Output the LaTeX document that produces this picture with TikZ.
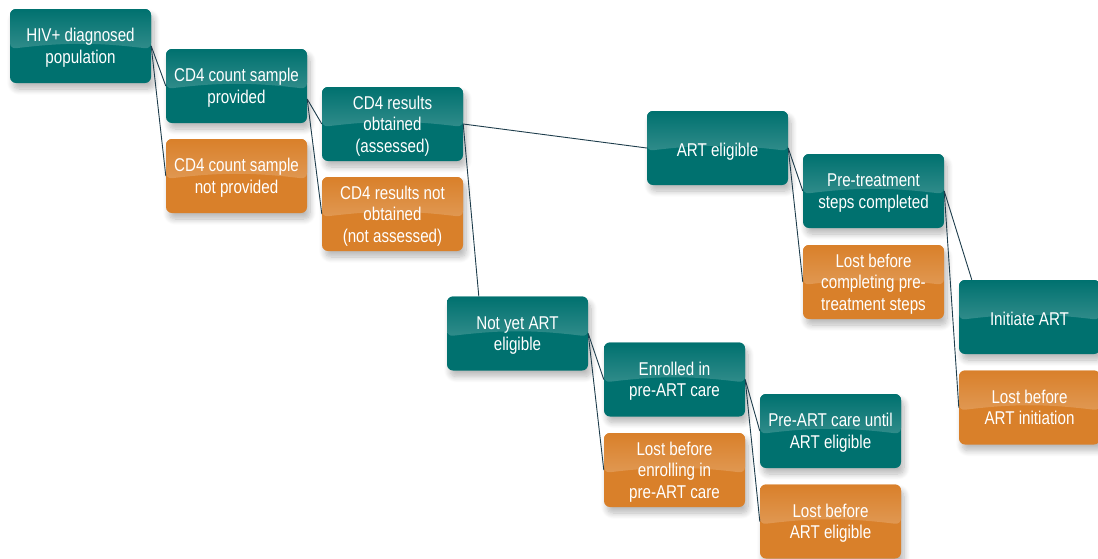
\documentclass[tikz,border=0pt]{standalone}
\usepackage{fontspec}
\setmainfont{Liberation Sans}[FakeStretch=0.82]
\usetikzlibrary{calc,shadows.blur}
\definecolor{ct}{HTML}{00716F}
\definecolor{co}{HTML}{D9802A}
\definecolor{cl}{HTML}{1E3D4C}

\begin{document}
\begin{tikzpicture}[x=1pt,y=-1pt,
  stage/.style={rounded corners=6pt, minimum width=141pt, minimum height=74pt, inner sep=0pt,
    align=center, text=white, font=\fontsize{18.5}{21.5}\selectfont, text depth=0pt,
    execute at begin node={\rule{0pt}{16pt}},
    blur shadow={shadow xshift=3pt, shadow yshift=-6pt, shadow opacity=28,
      shadow blur radius=6pt, shadow blur steps=10}},
  sheen/.style={fill=#1, path picture={
    \shade[top color=#1, bottom color=#1!65!white]
      (path picture bounding box.north west) -- (path picture bounding box.north east)
      -- ($(path picture bounding box.north east)!0.54!(path picture bounding box.south east)$)
      to[bend right=7] ($(path picture bounding box.north west)!0.54!(path picture bounding box.south west)$)
      -- cycle;}},
  link/.style={draw=cl, line width=0.9pt}]
  \useasboundingbox (0,0) rectangle (1098,558);
  \foreach \n/\x/\y/\c/\t in {
      b1/80.5/46/ct/{HIV+ diagnosed\\population},
      b2/236.5/86/ct/{CD4 count sample\\provided},
      b3/236.5/176/co/{CD4 count sample\\not provided},
      b4/392.5/124/ct/{CD4 results\\obtained\\(assessed)},
      b5/392.5/214/co/{CD4 results not\\obtained\\(not assessed)},
      b6/717.5/148/ct/{ART eligible},
      b7/873.5/191/ct/{Pre-treatment\\steps completed},
      b8/873.5/282/co/{Lost before\\completing pre-\\treatment steps},
      b9/1029.5/317/ct/{Initiate ART},
      b10/1029.5/407.5/co/{Lost before\\ART initiation},
      b11/517.5/333.5/ct/{Not yet ART\\eligible},
      b12/674.5/379.5/ct/{Enrolled in\\pre-ART care},
      b13/674.5/470/co/{Lost before\\enrolling in\\pre-ART care},
      b14/830.5/431/ct/{Pre-ART care until\\ART eligible},
      b15/830.5/521.5/co/{Lost before\\ART eligible}} {
    \node[stage, sheen=\c] (\n) at (\x,\y) {\t};}
  \begin{scope}[link]
    \draw (b1.east) -- (b2.west);
    \draw (b1.east) -- (b3.west);
    \draw ([yshift=-13pt]b2.east) -- (b4.west);
    \draw ([yshift=-13pt]b2.east) -- (b5.west);
    \draw (b4.east) -- (b6.west);
    \draw (b4.east) -- ([xshift=32pt]b11.north west);
    \draw (b6.east) -- (b7.west);
    \draw (b6.east) -- (b8.west);
    \draw (b7.east) -- ([xshift=13pt]b9.north west);
    \draw (b7.east) -- (b10.west);
    \draw (b11.east) -- (b12.west);
    \draw (b11.east) -- (b13.west);
    \draw (b12.east) -- (b14.west);
    \draw (b12.east) -- (b15.west);
  \end{scope}
\end{tikzpicture}
\end{document}
